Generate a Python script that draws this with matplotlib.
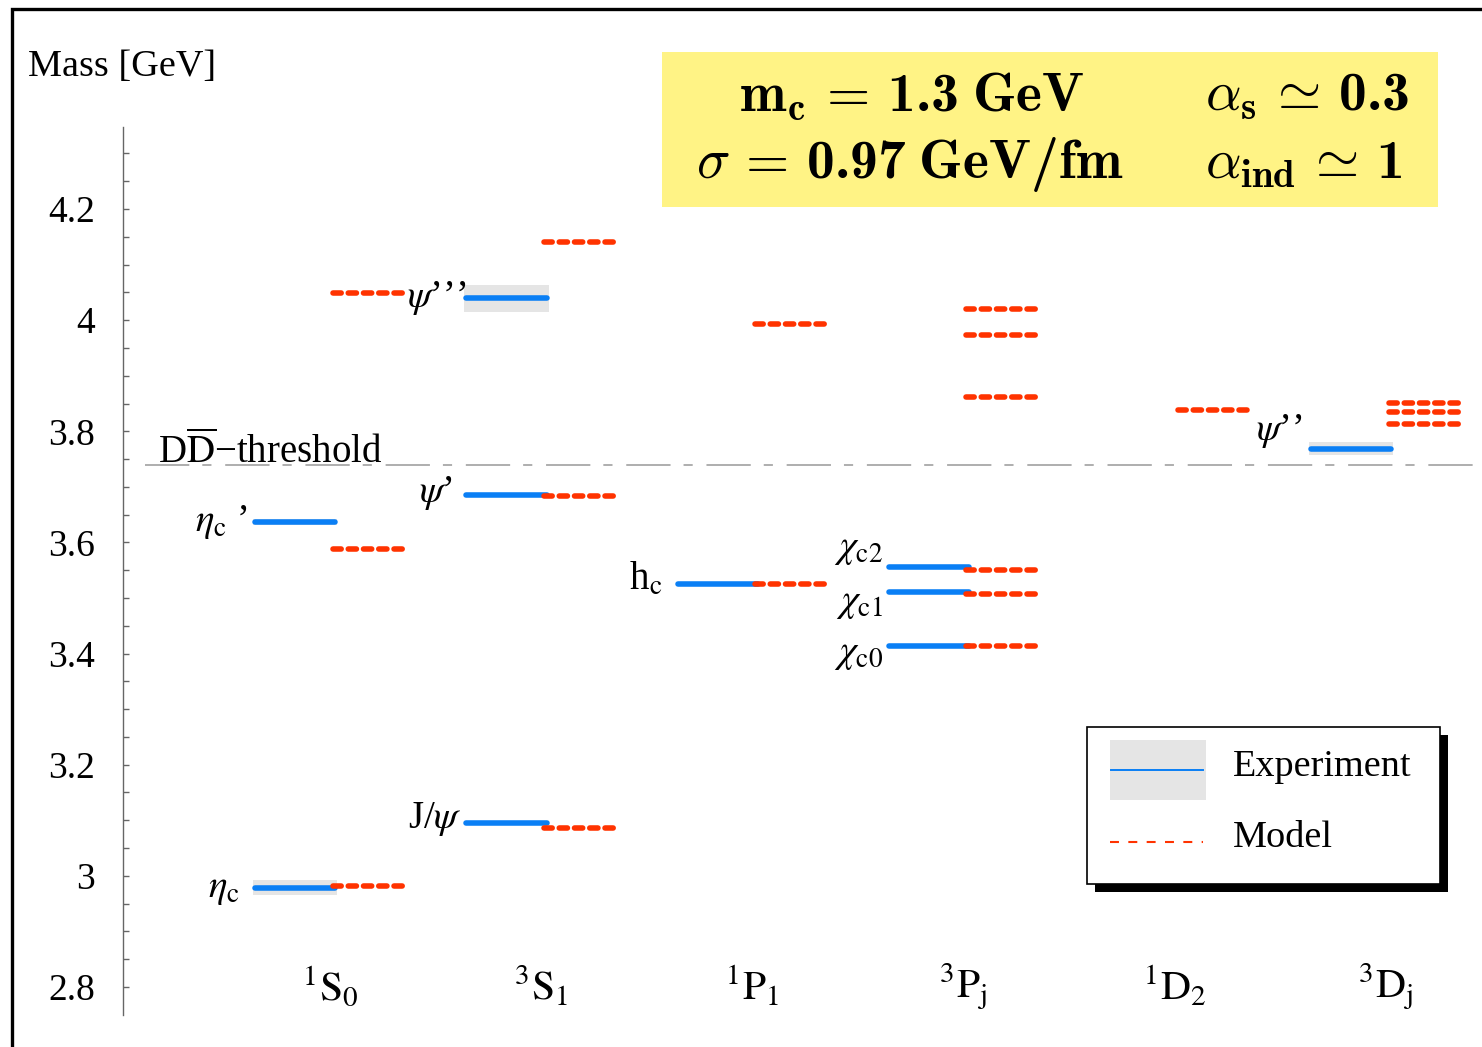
import matplotlib
matplotlib.use('Agg')
import matplotlib.pyplot as plt
from matplotlib.patches import Rectangle
from matplotlib.lines import Line2D

plt.rcParams['font.family'] = ['Liberation Serif', 'DejaVu Serif']
plt.rcParams['mathtext.fontset'] = 'stix'
# custom math fonts (used only for the parameter box via math_fontfamily='custom')
plt.rcParams['mathtext.rm'] = 'cmr10'
plt.rcParams['mathtext.it'] = 'cmmi10'
plt.rcParams['mathtext.bf'] = 'cmb10'
plt.rcParams['mathtext.fallback'] = 'cm'

# ---------------- data ----------------
categories = [r'${}^{1}\mathrm{S}_{0}$', r'${}^{3}\mathrm{S}_{1}$', r'${}^{1}\mathrm{P}_{1}$',
              r'${}^{3}\mathrm{P}_{\mathrm{j}}$', r'${}^{1}\mathrm{D}_{2}$', r'${}^{3}\mathrm{D}_{\mathrm{j}}$']

exp_cat = [1, 1, 2, 2, 2, 3, 4, 4, 4, 6]
exp_mass = [2.979, 3.637, 3.095, 3.685, 4.039, 3.525, 3.555, 3.510, 3.414, 3.769]
exp_err = [0.0135, 0.005, 0.0, 0.0, 0.025, 0.0, 0.0, 0.0, 0.0, 0.0125]
exp_labels = [r'$\eta_{\mathrm{c}}$', r'$\eta_{\mathrm{c}}$ ’', r'J/$\psi$', r'$\psi$’',
              r'$\psi$’’’', r'h$_{\mathrm{c}}$', r'$\chi_{\mathrm{c2}}$', r'$\chi_{\mathrm{c1}}$',
              r'$\chi_{\mathrm{c0}}$', r'$\psi$’’']

model_cat = [1, 1, 1, 2, 2, 2, 3, 3, 4, 4, 4, 4, 4, 4, 5, 6, 6, 6]
model_mass = [2.981, 3.589, 4.048, 3.087, 3.684, 4.141, 3.525, 3.993,
              3.414, 3.507, 3.550, 3.862, 3.973, 4.020, 3.838, 3.814, 3.834, 3.851]

threshold = 3.739
yticks = [2.8, 3.0, 3.2, 3.4, 3.6, 3.8, 4.0, 4.2]
ytick_labels = ['2.8', '3', '3.2', '3.4', '3.6', '3.8', '4', '4.2']

# label placement (style only)
label_dx = [-0.427, -0.389, -0.376, -0.419, -0.352, -0.429, -0.383, -0.383, -0.383, -0.394]
label_dy = [-0.002, 0.0, 0.007, 0.004, 0.0, 0.007, 0.034, -0.018, -0.013, 0.031]

W, H = 1482, 1047
fig = plt.figure(figsize=(W / 100, H / 100), dpi=100)
ax = fig.add_axes([123 / W, 32 / H, (W - 123) / W, (1015 - 127) / H])
ax.set_xlim(0.019, 6.454)
ax.set_ylim(2.7496, 4.3476)

for s in ['top', 'right', 'bottom']:
    ax.spines[s].set_visible(False)
ax.spines['left'].set_color('#666666')
ax.spines['left'].set_linewidth(1.0)
ax.set_xticks([])
ax.set_yticks(yticks)
ax.set_yticklabels(ytick_labels, fontsize=27)
ax.set_yticks([2.8 + 0.05 * k for k in range(31)], minor=True)
ax.tick_params(axis='y', which='both', direction='in', length=4.3, width=1.0,
               color='#666666', pad=20)

blue = '#0a7ff5'
red = '#ff3300'
lw = 4.0

# experiment
for c, m, e, lab, dx, dy in zip(exp_cat, exp_mass, exp_err, exp_labels, label_dx, label_dy):
    if e > 0:
        ax.fill_between([c - 0.366, c + 0.034], m - e, m + e, color='#e5e5e5', lw=0, zorder=1)
    ax.plot([c - 0.355, c + 0.025], [m, m], color=blue, lw=lw, solid_capstyle='round', zorder=2)
    ax.text(c + dx, m + dy, lab, ha='right', va='center', fontsize=28, zorder=4)

# model
for c, m in zip(model_cat, model_mass):
    ax.plot([c + 0.013, c + 0.343], [m, m], color=red, lw=lw, dashes=(1.475, 1.27),
            dash_capstyle='round', zorder=3)

# threshold
ax.plot([0.123, 6.454], [threshold, threshold], color='#999999', lw=1.1,
        dashes=(29, 8.5, 6, 9), zorder=0)
ax.text(0.185, threshold + 0.004, r'D$\overline{\mathrm{D}}$−threshold', ha='left',
        va='baseline', fontsize=28)

# category labels
for i, lab in enumerate(categories, start=1):
    ax.text(i, 2.8, lab, ha='center', va='center', fontsize=30)

# axis title
fig.text(28 / W, 1 - 67 / H, 'Mass [GeV]', ha='left', va='center', fontsize=27.5)

# outer frame
fig.add_artist(Line2D([11.5 / W, 11.5 / W, 1.0], [0.0, 1 - 9 / H, 1 - 9 / H],
                      transform=fig.transFigure, color='black', lw=2.4,
                      solid_joinstyle='miter'))

# parameter box
fig.add_artist(Rectangle((662 / W, 1 - 207 / H), (1438 - 662) / W, (207 - 52) / H,
                         transform=fig.transFigure, facecolor='#fff385', edgecolor='none'))
kw = dict(fontsize=40, math_fontfamily='custom', va='center')
fig.text(912 / W, 1 - 97 / H, r'$\mathbf{m_c}\,=\,\mathbf{1.3\;GeV}$', ha='center', **kw)
fig.text(910 / W, 1 - 165 / H, r'$\sigma\,=\,\mathbf{0.97\;GeV/fm}$', ha='center', **kw)
fig.text(1205 / W, 1 - 97 / H, r'$\alpha_{\mathbf{s}}\,\simeq\,\mathbf{0.3}$', ha='left', **kw)
fig.text(1205 / W, 1 - 165 / H, r'$\alpha_{\mathbf{ind}}\,\simeq\,\mathbf{1}$', ha='left', **kw)

# legend (manual)
def fx(p):
    return p / W

def fy(p):
    return 1 - p / H

fig.add_artist(Rectangle((fx(1095), fy(892)), (1448 - 1095) / W, (892 - 735) / H,
                         transform=fig.transFigure, facecolor='black', edgecolor='none'))
fig.add_artist(Rectangle((fx(1087), fy(884)), (1440 - 1087) / W, (884 - 727) / H,
                         transform=fig.transFigure, facecolor='white', edgecolor='black', lw=1.2))
fig.add_artist(Rectangle((fx(1110), fy(800)), (1206 - 1110) / W, (800 - 740) / H,
                         transform=fig.transFigure, facecolor='#e5e5e5', edgecolor='none'))
fig.add_artist(Line2D([fx(1111), fx(1203)], [fy(770), fy(770)], transform=fig.transFigure,
                      color=blue, lw=1.4))
fig.add_artist(Line2D([fx(1110), fx(1203)], [fy(842), fy(842)], transform=fig.transFigure,
                      color=red, lw=1.5, dashes=(4.3, 4.5)))
fig.text(fx(1233), fy(767), 'Experiment', ha='left', va='center', fontsize=27.5)
fig.text(fx(1233), fy(838), 'Model', ha='left', va='center', fontsize=27.5)

fig.savefig('out.png', dpi=100)
